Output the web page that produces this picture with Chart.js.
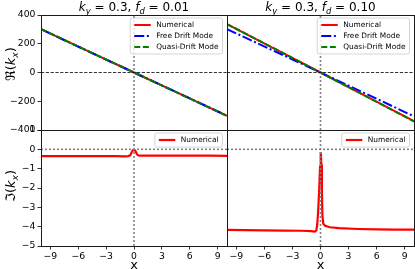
<!DOCTYPE html>
<html><head><meta charset="utf-8">
<script src="https://cdn.jsdelivr.net/npm/chart.js@4.4.0/dist/chart.umd.min.js"></script>
<style>
body{margin:0;background:#fff;}
#wrap{position:relative;width:415px;height:269px;overflow:hidden;font-family:"DejaVu Sans";color:#000;background:#fff;}
canvas{position:absolute;left:0;top:0;}
.t{position:absolute;white-space:nowrap;line-height:1;}
.sub{font-size:70%;position:relative;top:0.3em;}
</style></head><body>
<div id="wrap">
<canvas id="c0" width="415" height="269"></canvas>
<canvas id="c1" width="415" height="269"></canvas>
<canvas id="c2" width="415" height="269"></canvas>
<canvas id="c3" width="415" height="269"></canvas>
<div class="t" style="left:134px;top:1px;transform:translateX(-50%);font-size:12px"><i>k</i><span class="sub"><i>y</i></span> = 0.3, <i>f</i><span class="sub"><i>d</i></span> = 0.01</div>
<div class="t" style="left:320.5px;top:1px;transform:translateX(-50%);font-size:12px"><i>k</i><span class="sub"><i>y</i></span> = 0.3, <i>f</i><span class="sub"><i>d</i></span> = 0.10</div>
<div class="t" style="left:11px;top:64px;transform:translate(-50%,-50%) rotate(-90deg);font-size:13px">ℜ(<i>k</i><span class="sub"><i>x</i></span>)</div>
<div class="t" style="left:11px;top:186px;transform:translate(-50%,-50%) rotate(-90deg);font-size:13px">ℑ(<i>k</i><span class="sub"><i>x</i></span>)</div>
<div class="t" style="left:134px;top:258px;transform:translateX(-50%);font-size:13px">x</div>
<div class="t" style="left:320.5px;top:258px;transform:translateX(-50%);font-size:13px">x</div>
</div>
<script>
// ---- data ----
const xLine = [-10, -5, 0, 5, 10];
const reNumLow   = [302, 151, 0, -151, -302];
const reFreeLow  = [301, 150, 0, -150, -301];
const reQuasiLow = [302, 151, 0, -151, -302];
const reNumHigh   = [336, 168, 0, -169, -339];
const reFreeHigh  = [302, 151, 0, -152, -305];
const reQuasiHigh = [337, 169, 0, -170, -341];

const xImLow  = [-10, -8, -6, -4, -2, -1, -0.6, -0.4, -0.3, -0.2, -0.1, 0, 0.1, 0.2, 0.3, 0.4, 0.6, 1, 2, 4, 6, 8, 10];
const imNumLow = [-0.35, -0.35, -0.35, -0.35, -0.35, -0.36, -0.35, -0.3, -0.2, -0.1, -0.04, -0.02, -0.05, -0.13, -0.24, -0.3, -0.33, -0.33, -0.33, -0.33, -0.33, -0.33, -0.34];

const xImHigh = [-10, -8, -6, -4, -2, -1, -0.6, -0.45, -0.35, -0.25, -0.15, -0.05, 0, 0.05, 0.1, 0.15, 0.2, 0.3, 0.5, 1, 2, 4, 6, 8, 10];
const imNumHigh = [-4.17, -4.18, -4.19, -4.2, -4.21, -4.23, -4.26, -4.2, -3.9, -3.2, -2.2, -0.9, -0.3, -0.15, -0.8, -2.2, -3.4, -3.85, -3.95, -4.03, -4.08, -4.12, -4.14, -4.15, -4.15];

const xTicks  = [-9, -6, -3, 0, 3, 6, 9];
const reTicks = [400, 200, 0, -200, -400];
const imTicks = [1, 0, -1, -2, -3, -4, -5];
const seriesNames = ['Numerical', 'Free Drift Mode', 'Quasi-Drift Mode'];

// ---- helpers ----
const zip = (xs, ys) => xs.map((x, i) => ({x, y: ys[i]}));
const fmt = v => v < 0 ? '\u2212' + (-v) : String(v);
const tickFont = {family: 'DejaVu Sans', size: 9.25};

function dsNum(xs, ys, w) {
  return {label: seriesNames[0], data: zip(xs, ys), borderColor: '#ff0000', borderWidth: w, order: 3};
}
function dsFree(xs, ys) {
  return {label: seriesNames[1], data: zip(xs, ys), borderColor: '#0000ff', borderWidth: 2, borderDash: [10, 2.6, 2, 2.6], order: 2};
}
function dsQuasi(xs, ys) {
  return {label: seriesNames[2], data: zip(xs, ys), borderColor: '#008000', borderWidth: 2, borderDash: [6, 2.6], order: 1};
}
function refLines(ymin, ymax, hColor, hDash, hW) {
  return [
    {data: [{x: -10, y: 0}, {x: 10, y: 0}], borderColor: hColor, borderWidth: hW, borderDash: hDash, order: 0},
    {data: [{x: 0, y: ymin}, {x: 0, y: ymax}], borderColor: '#808080', borderWidth: 1.6, borderDash: [2, 2], order: 0}
  ];
}

const framePlugin = {
  id: 'frameLegend',
  afterDraw(chart) {
    const ctx = chart.ctx, a = chart.chartArea;
    ctx.save();
    ctx.strokeStyle = '#1a1a1a';
    ctx.lineWidth = 1;
    ctx.strokeRect(Math.round(a.left) + 0.5, Math.round(a.top) + 0.5, Math.round(a.right - a.left), Math.round(a.bottom - a.top));
    // legend
    const items = chart.data.datasets.filter(d => d.label);
    ctx.font = '7.4px "DejaVu Sans"';
    const rowH = 11, padL = 4, padR = 4, handle = 16.5, gap = 5.5;
    const tw = Math.max(...items.map(d => ctx.measureText(d.label).width));
    const w = padL + handle + gap + tw + padR;
    const h = 14 + rowH * (items.length - 1);
    const x = a.right - 4.5 - w, y = a.top + 3;
    ctx.fillStyle = 'rgba(255,255,255,0.8)';
    ctx.strokeStyle = '#cccccc';
    ctx.lineWidth = 0.8;
    ctx.beginPath();
    ctx.roundRect(x, y, w, h, 2);
    ctx.fill();
    ctx.stroke();
    items.forEach((d, i) => {
      const cy = y + 7 + rowH * i;
      ctx.strokeStyle = d.borderColor;
      ctx.lineWidth = d.borderWidth;
      ctx.setLineDash(d.borderDash || []);
      ctx.beginPath();
      ctx.moveTo(x + padL, cy);
      ctx.lineTo(x + padL + handle, cy);
      ctx.stroke();
      ctx.setLineDash([]);
      ctx.fillStyle = '#000';
      ctx.textBaseline = 'middle';
      ctx.textAlign = 'left';
      ctx.fillText(d.label, x + padL + handle + gap, cy + 0.5);
    });
    ctx.restore();
  }
};

function makeChart(id, area, datasets, showX, showY, ymin, ymax, yTicks) {
  const W = 415, H = 269;
  const xH = H - area.b, yW = area.l;
  return new Chart(document.getElementById(id), {
    type: 'line',
    data: {datasets},
    options: {
      responsive: false, animation: false, devicePixelRatio: 1,
      layout: {padding: {left: showY ? 0 : area.l, top: area.t, right: W - area.r, bottom: showX ? 0 : H - area.b}},
      elements: {point: {radius: 0}, line: {tension: 0, fill: false, borderCapStyle: 'butt'}},
      plugins: {legend: {display: false}, tooltip: {enabled: false}, title: {display: false}},
      scales: {
        x: {
          type: 'linear', min: -10, max: 10, display: showX,
          afterBuildTicks: s => { s.ticks = xTicks.map(v => ({value: v})); },
          afterFit: s => { s.height = showX ? xH : 0; },
          ticks: {font: tickFont, color: '#000', padding: 2, maxRotation: 0, autoSkip: false, callback: fmt},
          grid: {display: true, drawOnChartArea: false, drawTicks: true, tickLength: 3.5, color: '#000', lineWidth: 0.8},
          border: {display: false}
        },
        y: {
          type: 'linear', min: ymin, max: ymax, display: showY,
          afterBuildTicks: s => { s.ticks = yTicks.map(v => ({value: v})); },
          afterFit: s => { s.width = showY ? yW : 0; },
          ticks: {font: tickFont, color: '#000', padding: 2, autoSkip: false, callback: fmt},
          grid: {display: true, drawOnChartArea: false, drawTicks: true, tickLength: 3.5, color: '#000', lineWidth: 0.8},
          border: {display: false}
        }
      }
    },
    plugins: [framePlugin]
  });
}

const A = {
  TL: {l: 41, t: 15, r: 227, b: 130},
  TR: {l: 227, t: 15, r: 414, b: 130},
  BL: {l: 41, t: 130, r: 227, b: 246},
  BR: {l: 227, t: 130, r: 414, b: 246}
};

makeChart('c0', A.TL, [
  ...refLines(-400, 400, '#000000', [3.2, 1.6], 0.8),
  dsNum(xLine, reNumLow, 2), dsFree(xLine, reFreeLow), dsQuasi(xLine, reQuasiLow)
], false, true, -400, 400, reTicks);

makeChart('c1', A.TR, [
  ...refLines(-400, 400, '#000000', [3.2, 1.6], 0.8),
  dsNum(xLine, reNumHigh, 2), dsFree(xLine, reFreeHigh), dsQuasi(xLine, reQuasiHigh)
], false, false, -400, 400, reTicks);

makeChart('c2', A.BL, [
  ...refLines(-5, 1, '#808080', [2, 2], 1.6),
  dsNum(xImLow, imNumLow, 2.2)
], true, true, -5, 1, imTicks);

makeChart('c3', A.BR, [
  ...refLines(-5, 1, '#808080', [2, 2], 1.6),
  dsNum(xImHigh, imNumHigh, 2.2)
], true, false, -5, 1, imTicks);
</script>
</body></html>
